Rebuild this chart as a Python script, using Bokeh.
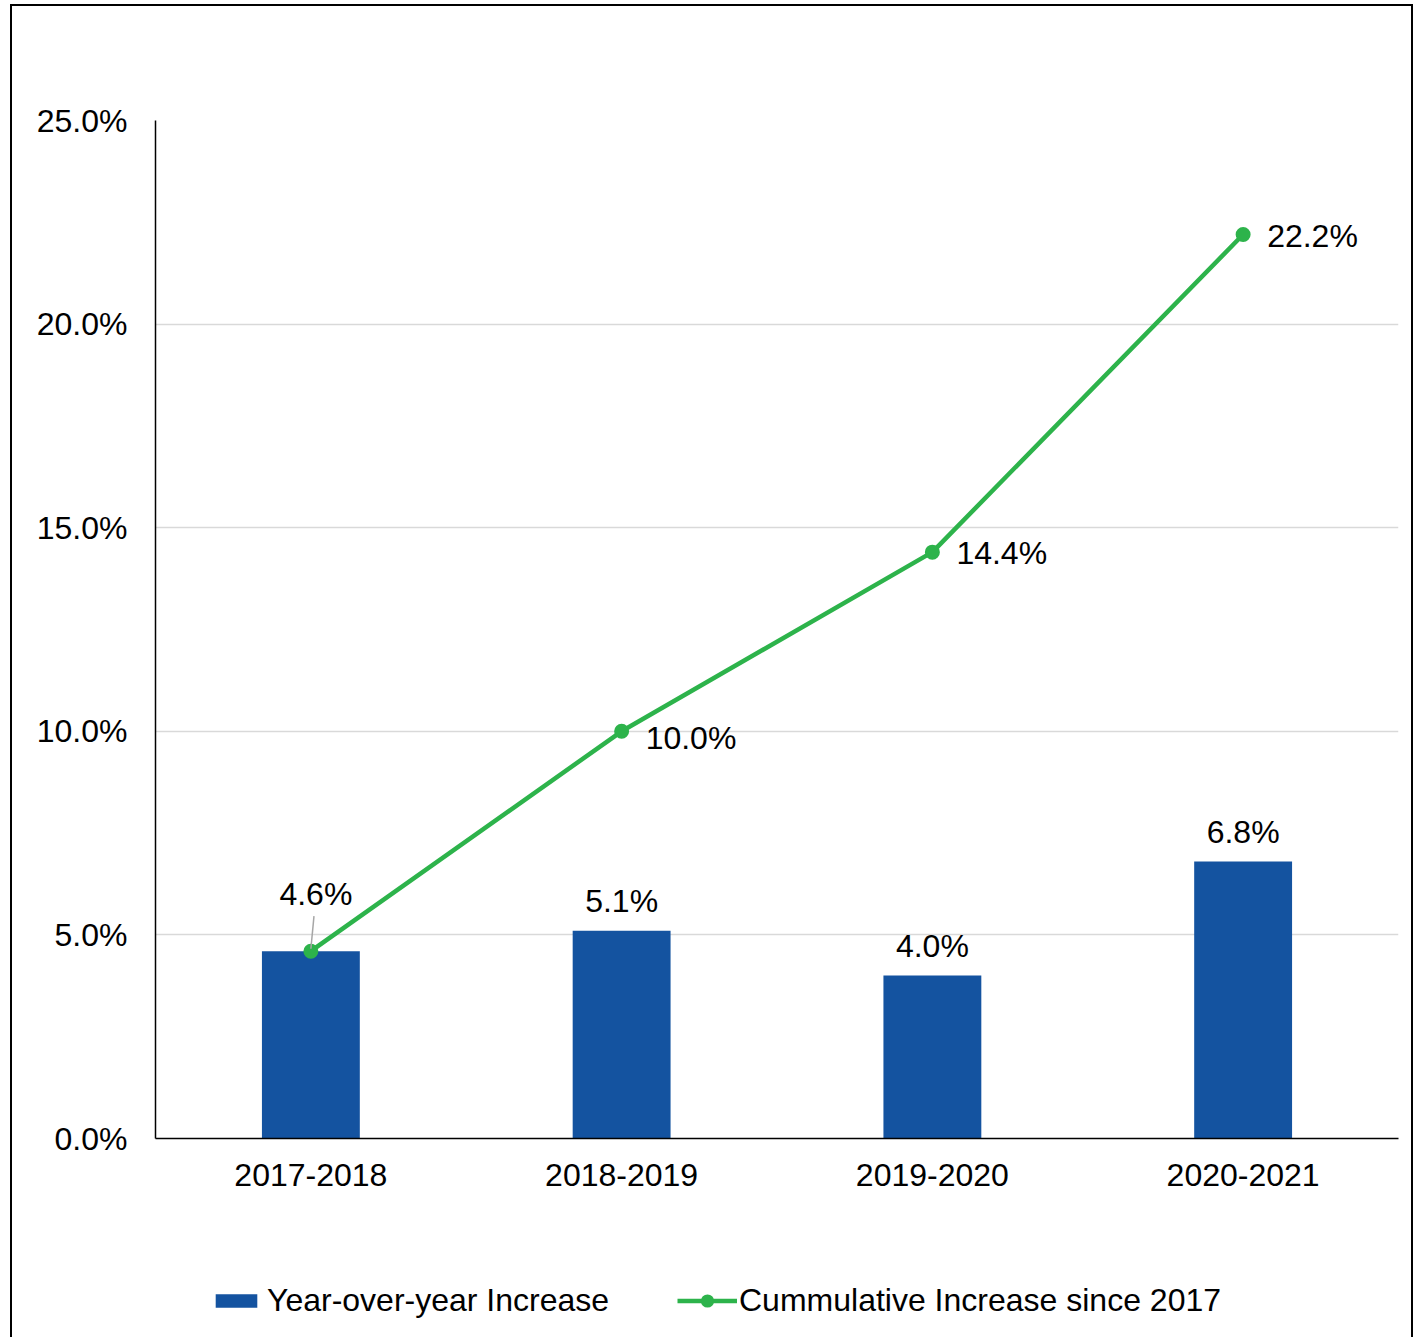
from bokeh.plotting import figure
from bokeh.layouts import column
from bokeh.models import ColumnDataSource, Legend, LegendItem, PrintfTickFormatter, FixedTicker
from bokeh.core.properties import value
from bokeh.embed import file_html
from bokeh.resources import INLINE

# ---- data ----
periods = ["2017-2018", "2018-2019", "2019-2020", "2020-2021"]
yoy_increase = [4.6, 5.1, 4.0, 6.8]
cumulative_increase = [4.6, 10.0, 14.4, 22.2]
bar_label_shown = [False, True, True, True]
y_ticks = [0, 5, 10, 15, 20, 25]
series_names = ["Year-over-year Increase", "Cummulative Increase since 2017"]

FONT = "Liberation Sans"
BLUE = "#1453A0"
GREEN = "#2DB34B"
FS = "32px"
W = 1399

p = figure(
    x_range=periods, y_range=(0, 25),
    width=W, height=1244,
    output_backend="svg", toolbar_location=None,
    min_border_left=143, min_border_right=13,
    min_border_top=114, min_border_bottom=112,
)
p.outline_line_color = None
p.background_fill_color = "white"
p.border_fill_color = "white"

# axes
p.yaxis.ticker = FixedTicker(ticks=y_ticks)
p.yaxis.formatter = PrintfTickFormatter(format="%.1f%%")
for ax in (p.xaxis[0], p.yaxis[0]):
    ax.axis_line_color = "black"
    ax.axis_line_width = 1.5
    ax.major_tick_line_color = None
    ax.minor_tick_line_color = None
    ax.major_tick_out = 0
    ax.major_tick_in = 0
    ax.major_label_text_font = FONT
    ax.major_label_text_font_size = FS
    ax.major_label_text_color = "black"
p.yaxis.major_label_standoff = 28
p.xaxis.major_label_standoff = 25

p.xgrid.grid_line_color = None
p.ygrid.grid_line_color = "#d9d9d9"
p.ygrid.grid_line_width = 1.5

# bars
bars = p.vbar(x=periods, top=yoy_increase, width=0.315, fill_color=BLUE, line_color=None)

# line + markers
line = p.line(x=periods, y=cumulative_increase, line_color=GREEN, line_width=4.5)
dots = p.scatter(x=periods, y=cumulative_increase, size=15, fill_color=GREEN, line_color=None)

# bar labels
bl = ColumnDataSource(dict(
    x=[c for c, s in zip(periods, bar_label_shown) if s],
    y=[v for v, s in zip(yoy_increase, bar_label_shown) if s],
    t=["%.1f%%" % v for v, s in zip(yoy_increase, bar_label_shown) if s],
))
p.text(x="x", y="y", text="t", source=bl, text_align="center", text_baseline="middle",
       y_offset=-30, text_font=value(FONT), text_font_size=FS, text_color="black")

# cumulative labels
p.text(x=[periods[0]], y=[cumulative_increase[0]], text=["%.1f%%" % cumulative_increase[0]],
       text_align="center", text_baseline="middle", x_offset=5, y_offset=-57,
       text_font=value(FONT), text_font_size=FS, text_color="black")
p.segment(x0=[(periods[0], 0.0)], y0=[cumulative_increase[0] + 0.06],
          x1=[(periods[0], 0.01)], y1=[cumulative_increase[0] + 0.86],
          line_color="#a6a6a6", line_width=1.5)
cl = ColumnDataSource(dict(
    x=periods[1:], y=cumulative_increase[1:],
    t=["%.1f%%" % v for v in cumulative_increase[1:]],
    dy=[7, 1, 1],
))
p.text(x="x", y="y", text="t", source=cl, text_align="left", text_baseline="middle",
       x_offset=24, y_offset="dy", text_font=value(FONT), text_font_size=FS, text_color="black")

# ---- legend strip below the chart (same series, plotted far outside its visible range) ----
lg = figure(width=W, height=87, x_range=periods, y_range=(913, 1000),
            x_axis_type=None, y_axis_type=None,
            output_backend="svg", toolbar_location=None,
            min_border_left=143, min_border_right=13,
            min_border_top=0, min_border_bottom=0)
lg.outline_line_color = None
lg.background_fill_color = "white"
lg.border_fill_color = "white"
lg.xgrid.visible = False
lg.ygrid.visible = False

k_bar = lg.vbar(x=periods, top=yoy_increase, width=0.315, fill_color=BLUE, line_color=None)
k_line = lg.line(x=periods, y=cumulative_increase, line_color=GREEN, line_width=4.5)
k_dot = lg.scatter(x=periods, y=cumulative_increase, size=15, fill_color=GREEN, line_color=None)

common = dict(orientation="horizontal", padding=0, margin=0, spacing=0,
              label_text_font=FONT, label_text_font_size=FS, label_text_color="black",
              background_fill_alpha=0, border_line_color=None)
leg1 = Legend(items=[LegendItem(label=series_names[0], renderers=[k_bar])],
              location=(55, 18), glyph_width=52, glyph_height=17, label_standoff=5, **common)
leg2 = Legend(items=[LegendItem(label=series_names[1], renderers=[k_line, k_dot])],
              location=(522, 18), glyph_width=60, glyph_height=33, label_standoff=2, **common)
lg.add_layout(leg1)
lg.add_layout(leg2)

layout = column(p, lg, spacing=0)
layout.styles = {"border-top": "2px solid black", "border-left": "2px solid black",
                 "border-right": "2px solid black", "margin-left": "10px", "margin-top": "4px"}

open("out.html", "w").write(file_html(layout, INLINE))
